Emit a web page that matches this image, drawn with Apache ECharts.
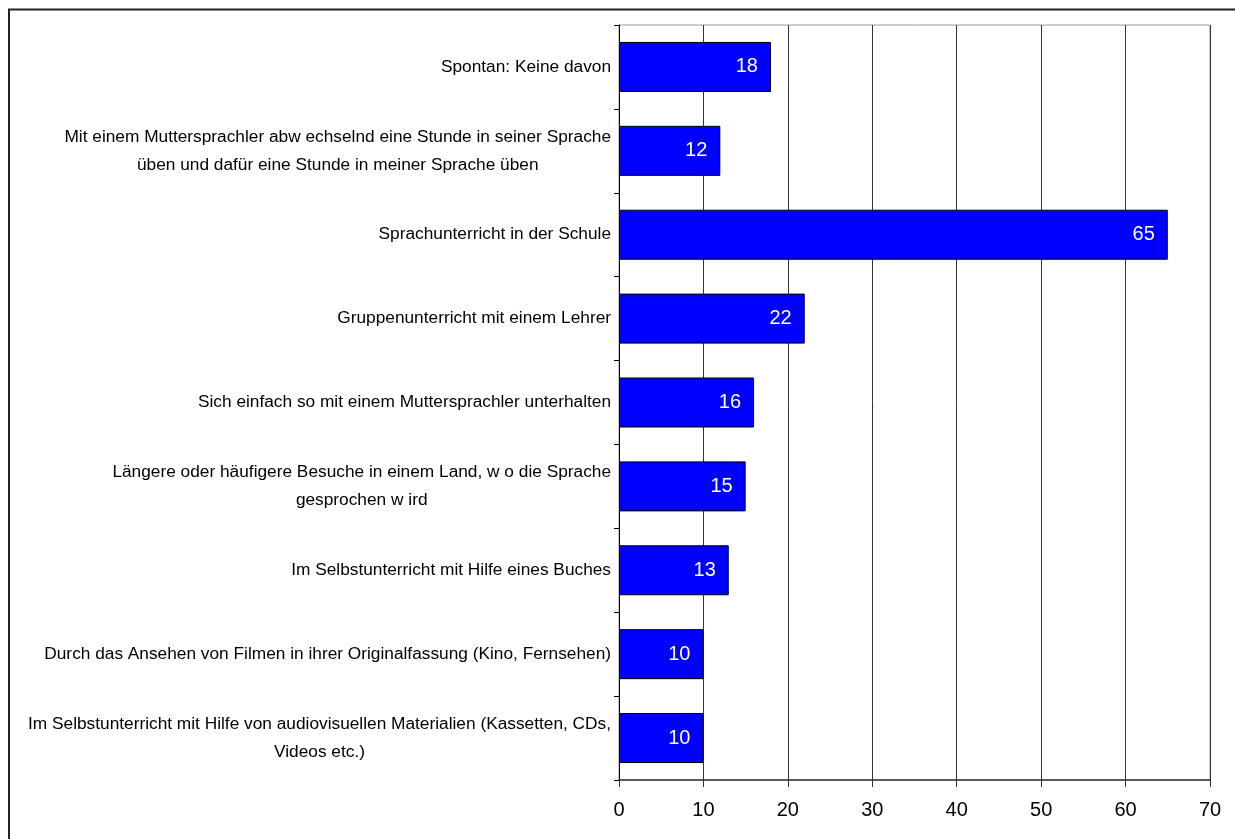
<!DOCTYPE html>
<html>
<head>
<meta charset="utf-8">
<style>
  html, body { margin: 0; padding: 0; background: #fff; }
  #chart { width: 1235px; height: 839px; }
</style>
<script src="https://cdn.jsdelivr.net/npm/echarts@6/dist/echarts.min.js"></script>
</head>
<body>
<div id="chart"></div>
<script>
// Survey answers, listed top to bottom
const categories = [
  'Spontan: Keine davon',
  'Mit einem Muttersprachler abw echselnd eine Stunde in seiner Sprache\nüben und dafür eine Stunde in meiner Sprache üben',
  'Sprachunterricht in der Schule',
  'Gruppenunterricht mit einem Lehrer',
  'Sich einfach so mit einem Muttersprachler unterhalten',
  'Längere oder häufigere Besuche in einem Land, w o die Sprache\ngesprochen w ird',
  'Im Selbstunterricht mit Hilfe eines Buches',
  'Durch das Ansehen von Filmen in ihrer Originalfassung (Kino, Fernsehen)',
  'Im Selbstunterricht mit Hilfe von audiovisuellen Materialien (Kassetten, CDs,\nVideos etc.)'
];
const values = [18, 12, 65, 22, 16, 15, 13, 10, 10];
const xTicks = { min: 0, max: 70, interval: 10 };

const chart = echarts.init(document.getElementById('chart'), null, { renderer: 'canvas' });
const font = '"Liberation Sans", Arial, sans-serif';

chart.setOption({
  animation: false,
  backgroundColor: '#fff',
  graphic: [{
    type: 'rect',
    shape: { x: 9, y: 9.5, width: 1240, height: 840 },
    style: { fill: 'none', stroke: '#222', lineWidth: 2 },
    z: 100
  }],
  grid: {
    left: 619, right: 25, top: 25, bottom: 59,
    show: true, borderColor: '#9a9a9a', borderWidth: 1,
    containLabel: false
  },
  xAxis: {
    type: 'value',
    min: xTicks.min, max: xTicks.max, interval: xTicks.interval,
    axisLine: { show: true, lineStyle: { color: '#333', width: 1.5 } },
    axisTick: { show: true, length: 7, lineStyle: { color: '#333' } },
    axisLabel: { color: '#000', fontFamily: font, fontSize: 20, margin: 20 },
    splitLine: { show: true, lineStyle: { color: '#333', width: 1 } }
  },
  yAxis: {
    type: 'category',
    inverse: true,
    data: categories,
    axisLine: { show: true, lineStyle: { color: '#000', width: 1 } },
    axisTick: { show: true, length: 5, lineStyle: { color: '#000' } },
    axisLabel: {
      margin: 8,
      color: '#000',
      fontFamily: font,
      fontSize: 17.3,
      lineHeight: 28,
      formatter: v => '{c|' + v + '}',
      rich: { c: { align: 'center', fontFamily: font, fontSize: 17.3, lineHeight: 28, color: '#000' } }
    }
  },
  series: [{
    type: 'bar',
    data: values,
    barWidth: 50,
    itemStyle: { color: '#0000ff', borderColor: '#000', borderWidth: 1 },
    label: {
      show: true,
      position: 'insideRight',
      distance: 13,
      color: '#fff',
      fontFamily: font,
      fontSize: 20
    }
  }]
});
</script>
</body>
</html>
